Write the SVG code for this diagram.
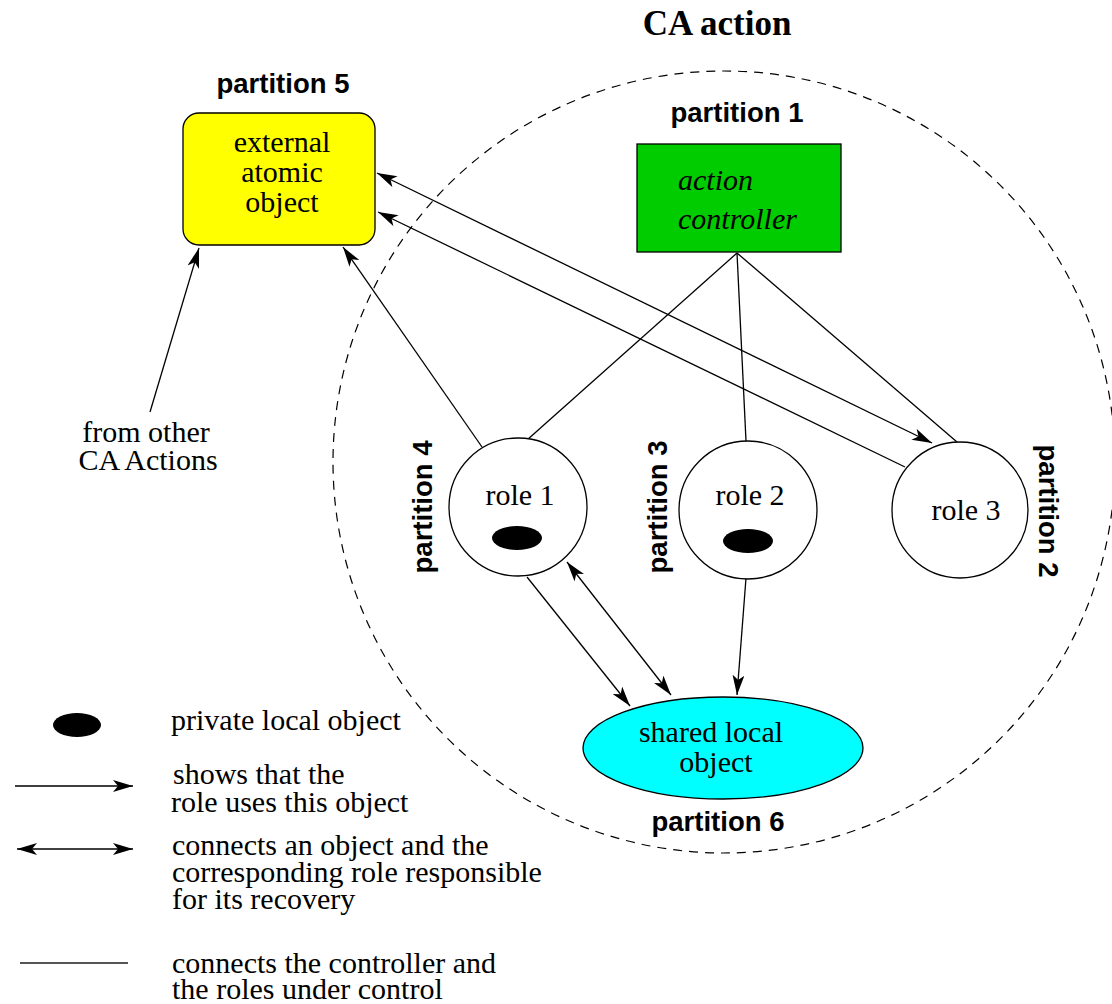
<svg xmlns="http://www.w3.org/2000/svg" width="1112" height="1004" viewBox="0 0 1112 1004">
<style>
.serif{font-family:"Liberation Serif","Times New Roman",serif;font-size:30px;fill:#000}
.ital{font-style:italic}
.part{font-family:"Liberation Sans",Arial,sans-serif;font-weight:bold;font-size:27.5px;fill:#000}
.title{font-family:"Liberation Serif","Times New Roman",serif;font-weight:bold;font-size:35px;fill:#000}
.ln{stroke:#000;stroke-width:1.3;fill:none}
.node{stroke:#000;stroke-width:1.3}
</style>
<defs>
<marker id="ah" viewBox="0 0 20 12" refX="20" refY="6" markerWidth="20" markerHeight="12" markerUnits="userSpaceOnUse" orient="auto-start-reverse">
<path d="M0,0 L20,6 L0,12 L5,6 z" fill="#000"/>
</marker>
</defs>
<rect width="1112" height="1004" fill="#fff"/>

<g id="ca-action">
<circle cx="724" cy="462" r="391" fill="none" stroke="#000" stroke-width="1.2" stroke-dasharray="9 7"/>
<text class="title" x="717" y="35" text-anchor="middle">CA action</text>
</g>

<g id="connectors">
<line class="ln" x1="737" y1="253" x2="527" y2="440"/>
<line class="ln" x1="737" y1="253" x2="746" y2="441"/>
<line class="ln" x1="737" y1="253" x2="957" y2="442"/>
<line class="ln" x1="932" y1="443" x2="377" y2="173" marker-start="url(#ah)" marker-end="url(#ah)"/>
<line class="ln" x1="905" y1="467" x2="378" y2="212" marker-end="url(#ah)"/>
<line class="ln" x1="482" y1="447" x2="343" y2="247" marker-end="url(#ah)"/>
<line class="ln" x1="150" y1="412" x2="199" y2="248" marker-end="url(#ah)"/>
<line class="ln" x1="527" y1="577" x2="630" y2="706" marker-end="url(#ah)"/>
<line class="ln" x1="567" y1="562" x2="671" y2="695" marker-start="url(#ah)" marker-end="url(#ah)"/>
<line class="ln" x1="746" y1="578" x2="737" y2="695" marker-end="url(#ah)"/>
</g>

<g id="partition5">
<text class="part" x="283" y="93" text-anchor="middle">partition 5</text>
<rect class="node" x="183" y="113" width="192" height="132" rx="16" fill="#ffff00"/>
<text class="serif" x="282" y="152" text-anchor="middle">external</text>
<text class="serif" x="282" y="182" text-anchor="middle">atomic</text>
<text class="serif" x="282" y="212" text-anchor="middle">object</text>
</g>

<g id="partition1">
<text class="part" x="737" y="122" text-anchor="middle">partition 1</text>
<rect class="node" x="637" y="144" width="204" height="108" fill="#00cc00"/>
<text class="serif ital" x="678" y="190">action</text>
<text class="serif ital" x="678" y="229">controller</text>
</g>

<g id="role1">
<circle class="node" cx="518" cy="507" r="69" fill="#fff"/>
<text class="serif" x="520" y="505" text-anchor="middle">role 1</text>
<ellipse cx="517" cy="538" rx="25" ry="12" fill="#000"/>
<text class="part" transform="translate(432,507) rotate(-90)" text-anchor="middle">partition 4</text>
</g>

<g id="role2">
<circle class="node" cx="748" cy="510" r="69" fill="#fff"/>
<text class="serif" x="750" y="505" text-anchor="middle">role 2</text>
<ellipse cx="748" cy="541" rx="25" ry="12" fill="#000"/>
<text class="part" transform="translate(667,507) rotate(-90)" text-anchor="middle">partition 3</text>
</g>

<g id="role3">
<circle class="node" cx="960" cy="510" r="68" fill="#fff"/>
<text class="serif" x="966" y="520" text-anchor="middle">role 3</text>
<text class="part" transform="translate(1039,511) rotate(90)" text-anchor="middle">partition 2</text>
</g>

<g id="shared">
<ellipse class="node" cx="723" cy="748" rx="140" ry="51" fill="#00ffff"/>
<text class="serif" x="711" y="742" text-anchor="middle">shared local</text>
<text class="serif" x="716" y="772" text-anchor="middle">object</text>
<text class="part" x="718" y="831" text-anchor="middle">partition 6</text>
</g>

<g id="external-source">
<text class="serif" x="146" y="442" text-anchor="middle">from other</text>
<text class="serif" x="148" y="470" text-anchor="middle">CA Actions</text>
</g>

<g id="legend">
<ellipse cx="77" cy="725" rx="24" ry="12" fill="#000"/>
<text class="serif" x="171" y="730">private local object</text>
<line class="ln" x1="15" y1="786" x2="133" y2="786" marker-end="url(#ah)"/>
<text class="serif" x="173" y="784">shows that the</text>
<text class="serif" x="171" y="812">role uses this object</text>
<line class="ln" x1="17" y1="849" x2="133" y2="849" marker-start="url(#ah)" marker-end="url(#ah)"/>
<text class="serif" x="172" y="855">connects an object and the</text>
<text class="serif" x="172" y="882">corresponding role responsible</text>
<text class="serif" x="172" y="909">for its recovery</text>
<line x1="20" y1="963" x2="128" y2="963" stroke="#555" stroke-width="2"/>
<text class="serif" x="172" y="973">connects the controller and</text>
<text class="serif" x="172" y="999">the roles under control</text>
</g>
</svg>
